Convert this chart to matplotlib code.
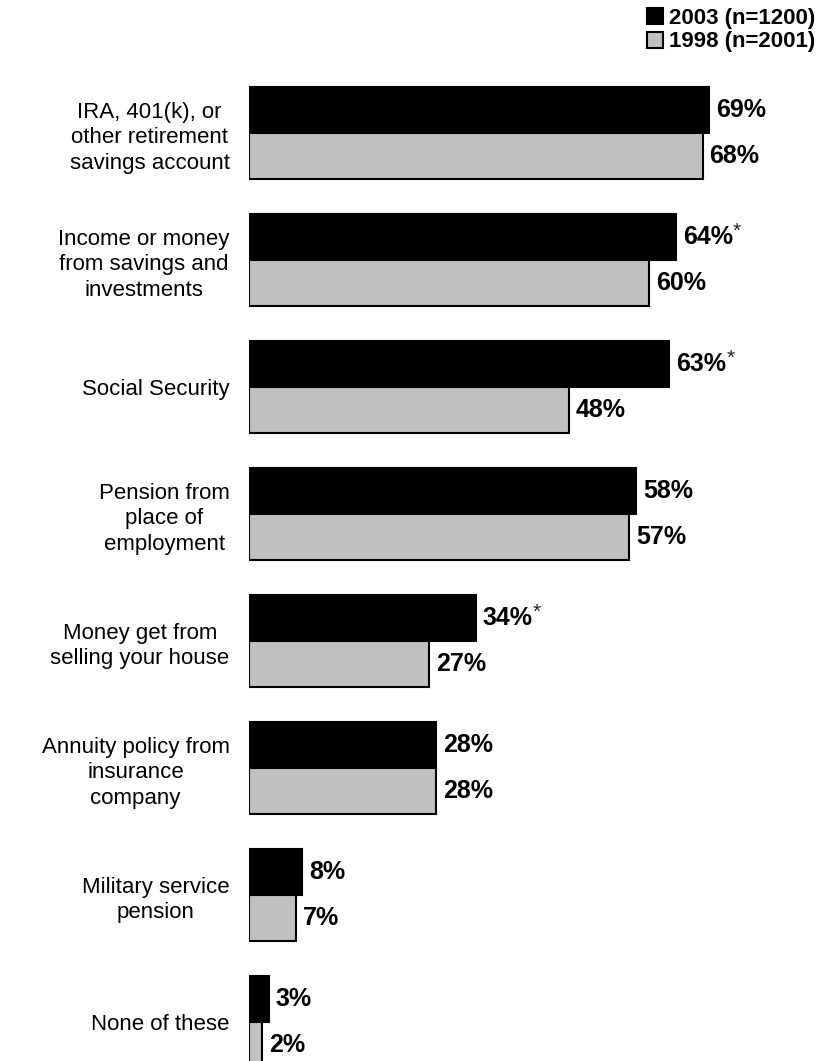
import numpy as np
import matplotlib.pyplot as plt

plt.rcParams['font.family'] = ['Liberation Sans', 'DejaVu Sans']

categories = [
    "IRA, 401(k), or\nother retirement\nsavings account",
    "Income or money\nfrom savings and\ninvestments",
    "Social Security",
    "Pension from\nplace of\nemployment",
    "Money get from\nselling your house",
    "Annuity policy from\ninsurance\ncompany",
    "Military service\npension",
    "None of these",
]
vals_2003 = [69, 64, 63, 58, 34, 28, 8, 3]
vals_1998 = [68, 60, 48, 57, 27, 28, 7, 2]
significant = [False, True, True, False, True, False, False, False]
series_labels = ["2003 (n=1200)", "1998 (n=2001)"]

W, H = 823, 1061
fig = plt.figure(figsize=(W / 100, H / 100), dpi=100)
ax = fig.add_axes([249 / W, 0, (W - 249) / W, 1])

y = np.arange(len(categories))
bh = 0.362
b1 = ax.barh(y - bh / 2, vals_2003, height=bh, color='black',
             edgecolor='black', linewidth=1.5, label=series_labels[0])
b2 = ax.barh(y + bh / 2, vals_1998, height=bh, color='#c0c0c0',
             edgecolor='black', linewidth=1.5, label=series_labels[1])

ax.set_xlim(0, (W - 249) / 6.67)
ax.set_ylim((H - 133) / 127, -133 / 127)

for i in range(len(categories)):
    t = ax.annotate(f"{vals_2003[i]}%", xy=(vals_2003[i], y[i] - bh / 2),
                    xytext=(5, 0), textcoords='offset points',
                    ha='left', va='center', fontsize=18, fontweight='bold')
    if significant[i]:
        # significance marker, raised like a superscript
        ax.annotate("*", xy=(1, 1), xycoords=t, xytext=(0, 2),
                    textcoords='offset points', ha='left', va='top',
                    fontsize=15, color='#222222')
    ax.annotate(f"{vals_1998[i]}%", xy=(vals_1998[i], y[i] + bh / 2),
                xytext=(5, 0), textcoords='offset points',
                ha='left', va='center', fontsize=18, fontweight='bold')

ax.set_yticks(y)
ax.set_yticklabels(categories, fontsize=16, linespacing=1.28)
for lab in ax.get_yticklabels():
    lab.set_multialignment('center')
ax.tick_params(axis='y', length=0, pad=14)
ax.set_xticks([])
for s in ax.spines.values():
    s.set_visible(False)

fig.legend(handles=[b1, b2], loc='upper right', bbox_to_anchor=(1.0, 1.0),
           frameon=False, prop={'weight': 'bold', 'size': 16},
           handlelength=0.75, handleheight=0.75, handletextpad=0.25,
           labelspacing=0.12, borderaxespad=0.0, borderpad=0.35)

fig.savefig('out.png', dpi=100)
